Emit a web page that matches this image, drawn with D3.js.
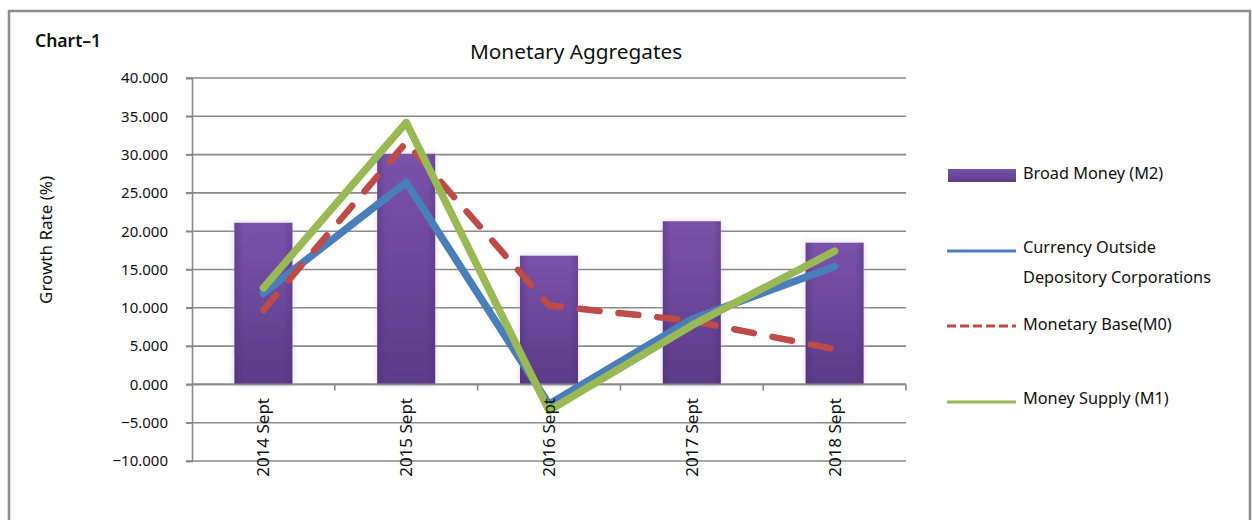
<!DOCTYPE html>
<html>
<head>
<meta charset="utf-8">
<script src="https://cdn.jsdelivr.net/npm/d3@7"></script>
<style>
  html, body { margin: 0; padding: 0; background: #fff; }
  svg { display: block; font-family: "Noto Sans", "Open Sans", sans-serif; }
</style>
</head>
<body>
<svg id="chart" width="1252" height="520"></svg>
<script>
const categories = ["2014 Sept", "2015 Sept", "2016 Sept", "2017 Sept", "2018 Sept"];
const broadMoneyM2 = [21.1, 30.1, 16.8, 21.3, 18.5];
const currencyOutside = [11.9, 26.4, -2.6, 8.5, 15.4];
const monetaryBaseM0 = [9.7, 31.6, 10.3, 8.3, 4.6];
const moneySupplyM1 = [12.6, 34.2, -3.4, 7.7, 17.4];
const yTicks = [40, 35, 30, 25, 20, 15, 10, 5, 0, -5, -10];
const legendLabels = ["Broad Money (M2)", ["Currency Outside", "Depository Corporations"], "Monetary Base(M0)", "Money Supply (M1)"];

const svg = d3.select("#chart");
const plot = { left: 192, right: 906, top: 78, bottom: 461 };

// outer frame
svg.append("path")
  .attr("d", "M9,520 L9,11 L1250,11 L1250,520")
  .attr("fill", "none").attr("stroke", "#8c8c8c").attr("stroke-width", 2.5);

const defs = svg.append("defs");
const grad = defs.append("linearGradient").attr("id", "barGrad").attr("x1", 0).attr("y1", 0).attr("x2", 0).attr("y2", 1);
grad.append("stop").attr("offset", "0%").attr("stop-color", "#7a52ab");
grad.append("stop").attr("offset", "100%").attr("stop-color", "#5c3b88");
const hgrad = defs.append("linearGradient").attr("id", "barH").attr("x1", 0).attr("y1", 0).attr("x2", 1).attr("y2", 0);
hgrad.append("stop").attr("offset", "0%").attr("stop-color", "#4a2a72").attr("stop-opacity", 0.35);
hgrad.append("stop").attr("offset", "15%").attr("stop-color", "#4a2a72").attr("stop-opacity", 0);
hgrad.append("stop").attr("offset", "85%").attr("stop-color", "#4a2a72").attr("stop-opacity", 0);
hgrad.append("stop").attr("offset", "100%").attr("stop-color", "#4a2a72").attr("stop-opacity", 0.3);
const glow = defs.append("filter").attr("id", "glow").attr("x", "-30%").attr("y", "-10%").attr("width", "160%").attr("height", "120%");
glow.append("feGaussianBlur").attr("in", "SourceAlpha").attr("stdDeviation", 3).attr("result", "b");
glow.append("feFlood").attr("flood-color", "#c9b8e6").attr("flood-opacity", 0.6);
glow.append("feComposite").attr("in2", "b").attr("operator", "in").attr("result", "g");
const m = glow.append("feMerge");
m.append("feMergeNode").attr("in", "g");
m.append("feMergeNode").attr("in", "SourceGraphic");

const x = d3.scaleBand().domain(categories).range([plot.left, plot.right]).paddingInner(0).paddingOuter(0);
const y = d3.scaleLinear().domain([-10, 40]).range([plot.bottom, plot.top]);

// gridlines
svg.append("g").selectAll("line").data(yTicks).join("line")
  .attr("x1", plot.left - 6).attr("x2", plot.right)
  .attr("y1", d => y(d)).attr("y2", d => y(d))
  .attr("stroke", "#8a8a8a").attr("stroke-width", 1.6);

// y axis
const yAxis = svg.append("g").attr("transform", `translate(${plot.left},0)`)
  .call(d3.axisLeft(y).tickValues(yTicks).tickSize(6).tickPadding(18)
    .tickFormat(d => (d < 0 ? "\u2212" : "") + d3.format(".3f")(Math.abs(d))));
yAxis.select(".domain").attr("stroke", "#8a8a8a").attr("stroke-width", 1.6);
yAxis.selectAll(".tick line").attr("stroke", "#8a8a8a").attr("stroke-width", 1.6);
yAxis.selectAll("text").attr("font-size", 15).attr("fill", "#111").attr("font-family", "Noto Sans, sans-serif");

// bars
const bw = 58;
const bars = svg.append("g");
bars.selectAll("rect.b").data(broadMoneyM2).join("rect").attr("class", "b")
  .attr("x", (d, i) => x(categories[i]) + x.bandwidth() / 2 - bw / 2)
  .attr("width", bw)
  .attr("y", d => y(d)).attr("height", d => y(0) - y(d))
  .attr("fill", "url(#barGrad)").attr("filter", "url(#glow)");
bars.selectAll("rect.h").data(broadMoneyM2).join("rect").attr("class", "h")
  .attr("x", (d, i) => x(categories[i]) + x.bandwidth() / 2 - bw / 2)
  .attr("width", bw)
  .attr("y", d => y(d)).attr("height", d => y(0) - y(d))
  .attr("fill", "url(#barH)");

// zero line with category ticks
const xAxis = svg.append("g").attr("transform", `translate(0,${y(0)})`);
xAxis.append("line").attr("x1", plot.left).attr("x2", plot.right).attr("stroke", "#8a8a8a").attr("stroke-width", 1.6);
xAxis.selectAll("line.t").data(categories).join("line").attr("class", "t")
  .attr("x1", d => x(d) + x.bandwidth()).attr("x2", d => x(d) + x.bandwidth())
  .attr("y1", 0).attr("y2", 6).attr("stroke", "#8a8a8a").attr("stroke-width", 1.6);

// lines
const cx = i => x(categories[i]) + x.bandwidth() / 2;
const lineGen = d3.line().x((d, i) => cx(i)).y(d => y(d));
svg.append("path").datum(currencyOutside).attr("d", lineGen)
  .attr("fill", "none").attr("stroke", "#4a7ebb").attr("stroke-width", 7.5).attr("stroke-linejoin", "round").attr("stroke-linecap", "round");
svg.append("path").datum(monetaryBaseM0).attr("d", lineGen)
  .attr("fill", "none").attr("stroke", "#be4b48").attr("stroke-width", 6.5).attr("stroke-dasharray", "20 19").attr("stroke-linecap", "round").attr("stroke-linejoin", "round");
svg.append("path").datum(moneySupplyM1).attr("d", lineGen)
  .attr("fill", "none").attr("stroke", "#98b954").attr("stroke-width", 7.5).attr("stroke-linejoin", "round").attr("stroke-linecap", "round");

// category labels (rotated)
svg.append("g").selectAll("text").data(categories).join("text")
  .attr("transform", d => `translate(${x(d) + x.bandwidth() / 2 + 6},${398}) rotate(-90)`)
  .attr("text-anchor", "end").attr("font-size", 17).attr("fill", "#111")
  .text(d => d);

// titles
svg.append("text").attr("x", 576).attr("y", 59).attr("text-anchor", "middle")
  .attr("font-size", 20.8).attr("fill", "#111").text("Monetary Aggregates");
svg.append("text").attr("x", 35).attr("y", 47).attr("font-size", 17.5).attr("font-weight", 600).attr("fill", "#111").text("Chart\u20131");
svg.append("text").attr("transform", "translate(52,240) rotate(-90)").attr("text-anchor", "middle")
  .attr("font-size", 17).attr("fill", "#111").text("Growth Rate (%)");

// legend
const fs = 16.3;
const lg = svg.append("g");
lg.append("rect").attr("x", 948).attr("y", 169).attr("width", 68).attr("height", 13).attr("fill", "url(#barGrad)");
lg.append("text").attr("x", 1023).attr("y", 179).attr("font-size", fs).attr("fill", "#111").text(legendLabels[0]);
lg.append("line").attr("x1", 947).attr("x2", 1016).attr("y1", 251).attr("y2", 251).attr("stroke", "#4a7ebb").attr("stroke-width", 3);
lg.append("text").attr("x", 1023).attr("y", 253).attr("font-size", fs).attr("fill", "#111").text(legendLabels[1][0]);
lg.append("text").attr("x", 1023).attr("y", 283).attr("font-size", fs).attr("fill", "#111").text(legendLabels[1][1]);
lg.append("line").attr("x1", 947).attr("x2", 1016).attr("y1", 326).attr("y2", 326).attr("stroke", "#be4b48").attr("stroke-width", 3).attr("stroke-dasharray", "9 4");
lg.append("text").attr("x", 1023).attr("y", 330).attr("font-size", fs).attr("fill", "#111").text(legendLabels[2]);
lg.append("line").attr("x1", 947).attr("x2", 1016).attr("y1", 402).attr("y2", 402).attr("stroke", "#98b954").attr("stroke-width", 3);
lg.append("text").attr("x", 1023).attr("y", 404).attr("font-size", fs).attr("fill", "#111").text(legendLabels[3]);
</script>
</body>
</html>
